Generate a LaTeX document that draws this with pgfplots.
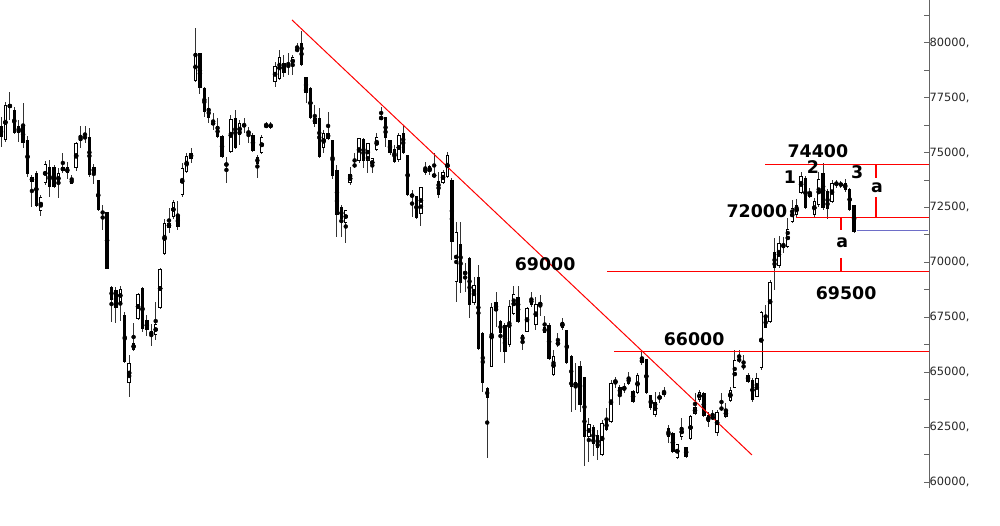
\documentclass[border=0pt]{standalone}
\usepackage{fontspec}
\setmainfont{DejaVu Sans}
\usepackage{pgfplots}
\usepackage{pgfplotstable}
\pgfplotsset{compat=1.18}
\definecolor{stopblue}{RGB}{110,110,200}
\definecolor{axgray}{RGB}{100,100,100}

% i open high low close
\pgfplotstableread{
i o h l c
0 76210 76620 75250 75710
1 75570 77300 75480 77160
2 77070 77760 76480 77160
3 76940 77070 75840 75890
4 76210 76480 75480 75890
5 76210 77250 75210 75430
6 75570 75750 73890 74020
7 73660 73980 72520 73890
8 74070 74160 72520 72570
9 72340 73070 72110 72970
10 73610 74610 73520 74480
11 74340 74660 72970 73430
12 74340 74430 73390 73430
13 73570 74300 72930 74070
14 74160 74980 74070 74340
15 74340 74570 73790 74070
16 73790 73980 73570 73570
17 74300 75480 74160 75430
18 75710 76210 75210 75520
19 75710 76210 75430 75660
20 75710 76120 73890 73980
21 74070 74480 73570 74340
22 73750 73750 72340 72380
23 72290 72610 71470 72250
24 72290 72290 69700 69700
25 68880 68920 67280 68290
26 68740 68880 67240 67920
27 68190 68920 67330 68790
28 67600 67740 65420 65460
29 64510 65780 63870 65420
30 66010 67240 65960 66330
31 67420 68600 67370 68560
32 68830 68880 66830 66960
33 67370 67600 66650 66920
34 66870 67190 66190 66690
35 66690 68190 66460 67190
36 67920 69740 67880 69700
37 70380 71970 70330 71790
38 71560 72470 71340 71790
39 72060 72840 71970 72750
40 72160 72790 71470 71610
41 73070 74520 72970 74300
42 74110 74980 74070 74840
43 74980 75210 74520 74700
44 78260 80670 78210 79530
45 79530 79530 77660 77940
46 77940 77980 76620 76850
47 77030 77530 76340 76570
48 76340 76800 76030 76300
49 76210 76570 75660 75710
50 75750 75800 74750 74800
51 74390 74800 73610 74520
52 75020 76710 74980 76530
53 76570 76940 75160 75210
54 75800 76480 75340 76340
55 76260 76570 75890 76240
56 75890 76160 75430 75930
57 75800 75890 75020 75070
58 74800 74890 73840 74480
59 74980 75800 74930 75710
60 76190 76390 76120 76230
61 76120 76390 76070 76300
62 78210 79120 77980 78940
63 78350 79670 78300 79350
64 79080 79440 78440 78620
65 78960 79530 78530 78920
66 78980 79440 78530 79350
67 79710 79990 79580 79620
68 79990 80530 78940 78980
69 78440 78440 77250 77710
70 77940 77980 76530 76570
71 76570 77160 76160 76300
72 76570 77030 74750 74800
73 75210 76030 74980 75890
74 75620 76850 75570 75890
75 75570 75570 73790 73930
76 74200 74430 71150 72160
77 72520 72610 71150 71970
78 71790 72380 70880 72380
79 73610 74340 73520 74020
80 74480 74980 74300 74340
81 74610 75660 74520 75660
82 75620 75660 74300 74610
83 74610 75430 74070 75430
84 74340 74750 74070 74750
85 75120 75890 75070 75710
86 76550 77070 76530 76590
87 76620 76620 75250 75660
88 75570 75570 74890 74980
89 75160 75340 74520 74570
90 74660 75890 74570 75800
91 75890 76250 74930 74980
92 74890 74890 73020 73070
93 72970 73290 72060 73110
94 73020 73020 71970 72020
95 72200 73430 71650 73430
96 74070 74570 73980 74300
97 74390 74430 73980 74110
98 73890 74980 73840 74020
99 73700 74110 72930 73070
100 73610 74200 73570 74110
101 73890 75020 73840 74890
102 73750 73840 70110 70930
103 69110 71840 68190 71380
104 70830 71840 68600 69060
105 69470 69970 68650 69560
106 70200 70240 67470 68060
107 68150 69330 68060 68970
108 69330 69880 66010 66050
109 66780 66830 64100 64510
110 64280 64320 61090 63820
111 65230 68150 65230 67970
112 68190 68650 67060 67780
113 67330 67370 65920 66780
114 67150 67240 65420 65920
115 66240 68290 66150 68010
116 67650 68920 67600 68560
117 68420 68920 67240 67280
118 66690 66740 66010 66420
119 66830 67970 66830 67920
120 68380 68650 67970 68060
121 67150 68420 66920 68100
122 68060 68510 67560 68150
123 67060 67560 66780 66780
124 67150 67240 65550 65600
125 64870 66010 64820 65740
126 66280 66780 66140 66330
127 67010 67470 66920 67280
128 66920 66920 65370 65420
129 65740 65780 63190 64330
130 64330 65420 63280 64550
131 65280 65510 63190 63500
132 64780 64780 60730 62050
133 62050 62910 60910 62640
134 62500 62590 61180 61730
135 62140 62370 61000 61550
136 61230 62820 61180 62690
137 62780 63370 62320 62370
138 62730 64640 62690 64500
139 64550 64780 64280 64600
140 64320 64410 63500 64000
141 64190 64510 64050 64320
142 64780 65010 64410 64460
143 64140 64190 63600 63640
144 64050 64960 64000 64870
145 65420 65920 65330 65600
146 65600 65600 64000 64050
147 63960 63960 63280 63370
148 63050 64100 62960 63640
149 63820 64100 63600 63870
150 63960 64320 63870 64140
151 62460 62590 61770 62050
152 62230 62280 61320 61360
153 61090 61730 61050 61730
154 62050 62910 61910 62500
155 61590 61590 61090 61140
156 61960 63050 61910 63000
157 63100 64050 63050 63410
158 63730 64190 63640 64100
159 64050 64100 62960 63000
160 63050 63190 62500 62730
161 62870 63280 62820 63000
162 62230 63280 62090 63190
163 63410 64050 63230 63280
164 62960 63600 62910 63280
165 63690 64320 63640 64190
166 64280 66010 64280 65550
167 65600 66010 65420 65510
168 65330 65780 65100 65190
169 64870 64960 64510 64550
170 64640 64730 63640 63730
171 63870 64960 63870 64730
172 65190 67780 65100 67740
173 67510 68060 67010 67010
174 67280 69200 67240 69110
175 70470 71110 68740 69740
176 69830 71200 69740 70880
177 70830 71150 70420 70650
178 70700 72020 70650 71520
179 71840 72840 71790 72470
180 72160 72880 72060 72610
181 73160 74110 73110 73930
182 73840 73930 72430 72470
183 72970 73380 72930 73160
184 72160 72930 72060 72790
185 72610 74110 72520 73790
186 74070 74520 72380 72470
187 73250 73340 71970 72430
188 72750 73750 72700 73610
189 73660 73750 73380 73520
190 73610 73700 73380 73480
191 73610 73790 73200 73290
192 73340 73380 72340 72380
193 72610 72610 71340 71380
}\candles

% red level segments, separated by nan rows
\pgfplotstableread{
x y
172.85 74450
209.9 74450
nan nan
179.9 72050
209.9 72050
nan nan
137.1 69580
209.9 69580
nan nan
138.7 65950
209.9 65950
nan nan
197.96 74450
197.96 73840
nan nan
197.96 72970
197.96 72050
nan nan
190.05 72050
190.05 71470
nan nan
190.05 70200
190.05 69580
}\levels

\begin{document}
\begin{tikzpicture}
\path[use as bounding box] (0pt,-38pt) rectangle (1000pt,488pt);
\begin{axis}[
    at={(0pt,0pt)}, anchor=south west,
    scale only axis,
    width=929pt, height=488pt,
    xmin=-0.226, xmax=209.95,
    ymin=59725, ymax=81944,
    axis x line=none,
    axis y line=right,
    y axis line style={-, draw=axgray, line width=0.8pt},
    scaled y ticks=false,
    ytick={60000,62500,...,80000},
    yticklabels={60000{,},62500{,},65000{,},67500{,},70000{,},72500{,},75000{,},77500{,},80000{,}},
    minor ytick={61250,63750,...,81250},
    tick align=inside,
    major tick length=5pt, minor tick length=5pt,
    every tick/.style={draw=axgray, line width=0.8pt},
    yticklabel style={font=\fontsize{11.4}{13}\selectfont, text=black!85, xshift=-3pt},
    clip=true,
]
% wicks
\addplot[only marks, mark=none,
    error bars/.cd, y dir=both, y explicit, error mark=none,
    error bar style={black!80, line width=0.9pt}]
    table[x=i, y expr={(\thisrow{h}+\thisrow{l})/2},
          y error expr={(\thisrow{h}-\thisrow{l})/2}] {\candles};
% bodies
\addplot[only marks, mark=none,
    error bars/.cd, y dir=both, y explicit, error mark=none,
    error bar style={black, line width=3.4pt}]
    table[x=i, y expr={(\thisrow{o}+\thisrow{c})/2},
          y error expr={max(abs(\thisrow{o}-\thisrow{c})/2,23)}] {\candles};
% hollow inside of rising candles
\addplot[only marks, mark=none,
    error bars/.cd, y dir=both, y explicit, error mark=none,
    error bar style={white, line width=1.6pt}]
    table[x=i, y expr={ifthenelse(\thisrow{c}>\thisrow{o},(\thisrow{o}+\thisrow{c})/2,50000)},
          y error expr={max((\thisrow{c}-\thisrow{o})/2-41,0)}] {\candles};

% trend line and levels
\addplot[color=red, line width=1pt] coordinates {(65.84,81034) (169.9,61228)};
\addplot[color=red, line width=1.2pt, unbounded coords=jump] table[x=x, y=y] {\levels};
\addplot[color=stopblue, line width=1.3pt] coordinates {(193.7,71440) (209.7,71440)};

\begin{scope}[every node/.style={font=\fontsize{17.4}{19}\selectfont\bfseries, text=black, inner sep=0pt}]
\node at (axis cs:184.8,75069) {74400};
\node at (axis cs:183.7,74341) {2};
\node at (axis cs:178.5,73885) {1};
\node at (axis cs:193.7,74113) {3};
\node at (axis cs:171.0,72337) {72000};
\node at (axis cs:198.2,73384) {a};
\node at (axis cs:190.3,70880) {a};
\node at (axis cs:191.2,68604) {69500};
\node at (axis cs:123.1,69924) {69000};
\node at (axis cs:156.8,66509) {66000};
\end{scope}
\end{axis}
\end{tikzpicture}
\end{document}
